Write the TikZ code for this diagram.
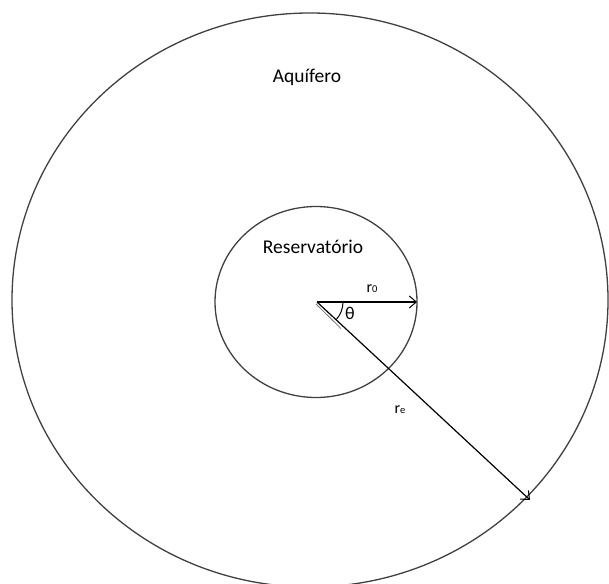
\documentclass[tikz,border=0pt]{standalone}
\usepackage{fontspec}
\setmainfont{Carlito}
\usetikzlibrary{positioning, arrows.meta}

\tikzset{
  boundary/.style={line width=1.3pt, draw=black!75},
  radius line/.style={->, line width=1.2pt},
  label text/.style={font=\fontsize{19.5}{23}\selectfont, inner sep=0pt},
  sym text/.style={font=\fontsize{16}{19}\selectfont, inner sep=0pt}
}
\newcommand{\smallsub}[1]{{\fontsize{10.5}{12}\selectfont #1}}

\begin{document}
\begin{tikzpicture}[x=1pt, y=-1pt, >={Straight Barb[length=7pt, width=12pt, line width=1pt]}]

    \useasboundingbox (0,0) rectangle (609,583);
    \clip (0,0) rectangle (609,583);

    % --- Aquifer (outer boundary) ---
    \draw[boundary] (310,300) ellipse [x radius=298, y radius=287];
    \node[label text] (aquifer) at (307,77) {Aquífero};

    % --- Reservoir (inner boundary) ---
    \draw[boundary] (316,302) ellipse [x radius=101, y radius=95.5];
    \node[label text] (reservoir) at (313,247) {Reservatório};

    % Centre and the two radii ends
    \coordinate (O) at (317,302);
    \coordinate (R0) at (417,302);
    \coordinate (Re) at (530,500);

    % Radius r_0 (horizontal)
    \draw[radius line] (O) -- (R0);
    \node[sym text] (r0) at (372,289) {r\smallsub{0}};

    % Radius r_e (down to the outer boundary)
    \draw[black!55, line width=0.8pt] ([shift={(-1,2)}]O) -- ++(44.5:35);
    \draw[radius line] (O) -- (Re);
    \node[sym text] (re) at (400,410) {r\smallsub{e}};

    % Angle theta
    \draw[line width=1pt] ([shift={(26,0)}]O) arc[start angle=0, end angle=43, radius=26];
    \node[font=\fontsize{18}{21}\selectfont, inner sep=0pt] (theta) at (350,313) {θ};

\end{tikzpicture}
\end{document}
